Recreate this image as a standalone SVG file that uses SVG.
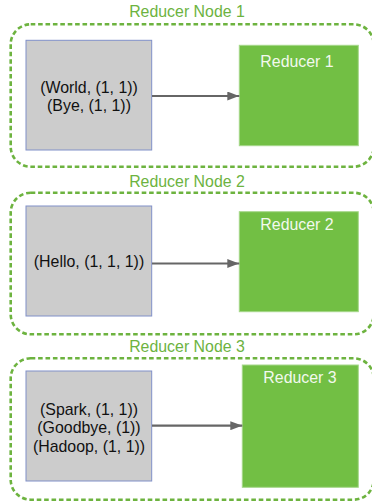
<svg xmlns="http://www.w3.org/2000/svg" width="372" height="502" viewBox="0 0 372 502">
<style>
.grp{fill:none;stroke:#6db33f;stroke-width:2.6;stroke-dasharray:4.6 2.8}
.glbl{font-family:"Liberation Sans",Arial,sans-serif;font-size:15.9px;fill:#6db33f;text-anchor:middle}
.in{fill:#cccccc;stroke:#8090c8;stroke-width:1}
.intx{font-family:"Liberation Sans",Arial,sans-serif;font-size:15.9px;fill:#111;text-anchor:middle}
.red{fill:#72bf44;stroke:#a6d88a;stroke-width:1}
.redtx{font-family:"Liberation Sans",Arial,sans-serif;font-size:15.9px;fill:#f2f9ee;text-anchor:middle}
.conn{stroke:#666;stroke-width:2.2;fill:none}
</style>
<defs>
<marker id="ah" markerUnits="userSpaceOnUse" markerWidth="12" markerHeight="9" refX="12" refY="4.5" orient="auto">
<path d="M0,0 L12,4.5 L0,9 Z" fill="#666"/>
</marker>
</defs>
<g id="node1">
<rect class="grp" x="10.7" y="24.3" width="363" height="142.4" rx="20"/>
<text class="glbl" x="187" y="17.3">Reducer Node 1</text>
<rect class="in" x="26" y="40.3" width="125.7" height="109.7"/>
<text class="intx" x="89" y="92.7">(World, (1, 1))</text>
<text class="intx" x="89" y="111">(Bye, (1, 1))</text>
<rect class="red" x="239.3" y="45.3" width="119" height="100.4"/>
<text class="redtx" x="297" y="67.3">Reducer 1</text>
</g>
<g id="node2">
<rect class="grp" x="10.7" y="192.7" width="363" height="141.6" rx="20"/>
<text class="glbl" x="187" y="187.3">Reducer Node 2</text>
<rect class="in" x="26" y="206" width="125.7" height="110"/>
<text class="intx" x="89" y="267.3">(Hello, (1, 1, 1))</text>
<rect class="red" x="239.3" y="211.7" width="119" height="100"/>
<text class="redtx" x="297" y="229.8">Reducer 2</text>
</g>
<g id="node3">
<rect class="grp" x="10.7" y="358.3" width="363" height="141.4" rx="20"/>
<text class="glbl" x="187" y="352.3">Reducer Node 3</text>
<rect class="in" x="26" y="371" width="125.7" height="110"/>
<text class="intx" x="89" y="415">(Spark, (1, 1))</text>
<text class="intx" x="89" y="433.3">(Goodbye, (1))</text>
<text class="intx" x="89" y="451.7">(Hadoop, (1, 1))</text>
<rect class="red" x="242.3" y="365" width="116" height="122.3"/>
<text class="redtx" x="300" y="382.7">Reducer 3</text>
</g>
<g id="connectors">
<line class="conn" x1="152" y1="96" x2="239.3" y2="96" marker-end="url(#ah)"/>
<line class="conn" x1="152" y1="263.5" x2="239.3" y2="263.5" marker-end="url(#ah)"/>
<line class="conn" x1="152" y1="425.7" x2="242.3" y2="425.7" marker-end="url(#ah)"/>
</g>
</svg>
